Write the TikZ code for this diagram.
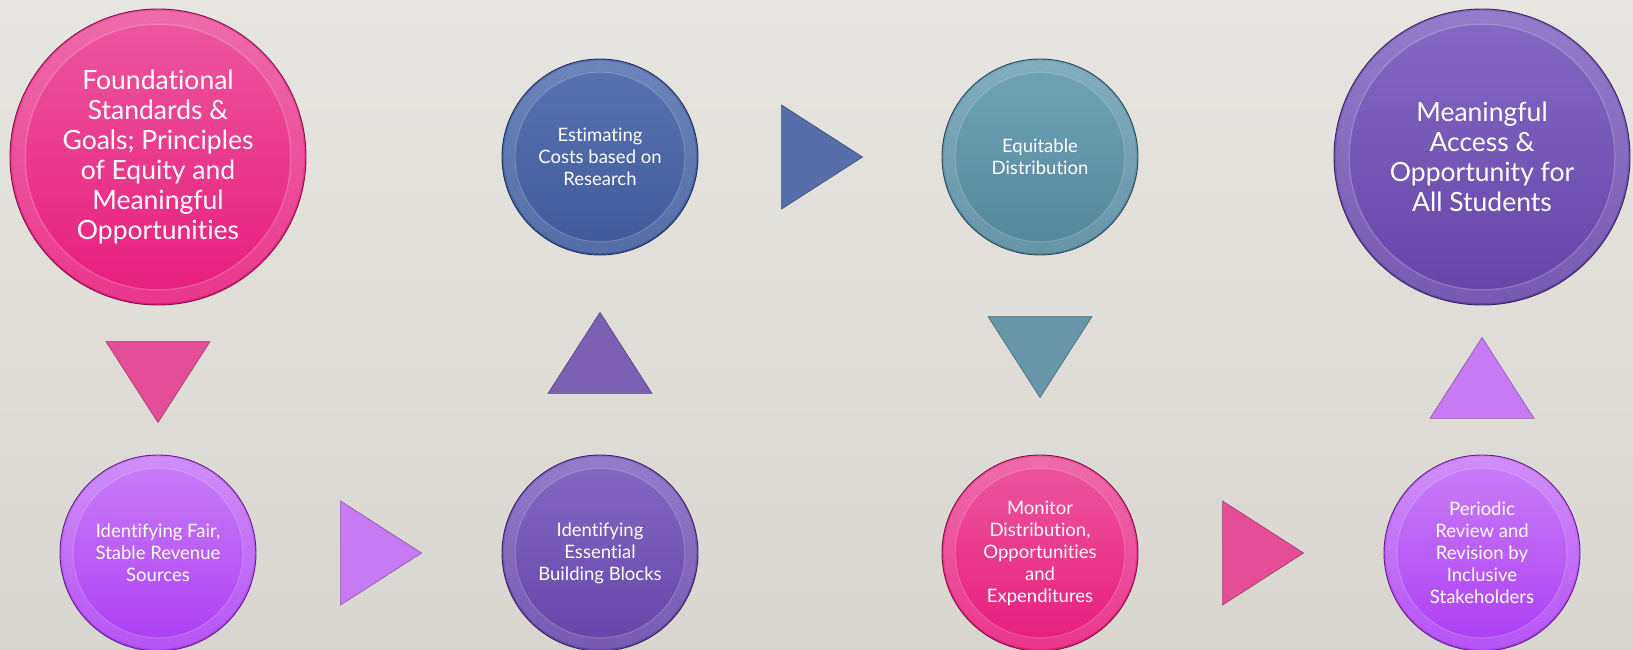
\documentclass[tikz,border=0pt]{standalone}
\usepackage{fontspec}
\setmainfont{Lato}[Ligatures=NoCommon]
\usepackage{tikz}
\usetikzlibrary{shapes.geometric, positioning}

\definecolor{bgtop}{RGB}{231,229,225}
\definecolor{bgbot}{RGB}{217,214,208}
\definecolor{pinkA}{RGB}{236,88,158}
\definecolor{pinkB}{RGB}{232,28,124}
\definecolor{violA}{RGB}{202,128,248}
\definecolor{violB}{RGB}{172,60,244}
\definecolor{purpA}{RGB}{134,106,196}
\definecolor{purpB}{RGB}{100,68,168}
\definecolor{blueA}{RGB}{88,116,178}
\definecolor{blueB}{RGB}{62,90,154}
\definecolor{tealA}{RGB}{112,164,182}
\definecolor{tealB}{RGB}{82,134,156}
\definecolor{pinkT}{RGB}{228,78,150}
\definecolor{violT}{RGB}{198,122,244}
\definecolor{purpT}{RGB}{124,96,180}
\definecolor{blueT}{RGB}{86,110,170}
\definecolor{tealT}{RGB}{102,150,168}

\tikzset{
	disc/.style 2 args={circle, inner sep=0pt, draw=#2!55!black, line width=.9pt,
		top color=#1, bottom color=#2, text=white, align=center},
	bigdisc/.style={minimum size=296pt, font=\fontsize{26.5}{30}\selectfont,
		path picture={
			\draw[white, opacity=.12, line width=12pt] (path picture bounding box.center) circle (140pt);
			\draw[white, opacity=.25, line width=1.5pt] (path picture bounding box.center) circle (133pt);}},
	smalldisc/.style={minimum size=196pt, font=\fontsize{18.5}{22}\selectfont,
		path picture={
			\draw[white, opacity=.12, line width=10pt] (path picture bounding box.center) circle (91pt);
			\draw[white, opacity=.25, line width=1.2pt] (path picture bounding box.center) circle (85pt);}},
	tri/.style={isosceles triangle, isosceles triangle stretches, inner sep=0pt,
		minimum width=104pt, minimum height=81pt, fill=#1, draw=#1!70!black, line width=.6pt},
	tridown/.style={tri=#1, shape border rotate=-90, yshift=10pt},
	triup/.style={tri=#1, shape border rotate=90, yshift=-10pt},
	triright/.style={tri=#1, shape border rotate=0, xshift=-10pt}
}

\begin{document}
\begin{tikzpicture}[x=1pt, y=-1pt]
		% background
		\useasboundingbox (0,0) rectangle (1633,650);
		\shade[top color=bgtop, bottom color=bgbot] (0,0) rectangle (1633,650);

		% top row
		\node[disc={pinkA}{pinkB}, bigdisc] (found) at (158,157) {Foundational\\Standards \&\\Goals; Principles\\of Equity and\\Meaningful\\Opportunities};
		\node[disc={blueA}{blueB}, smalldisc] (cost) at (600,157) {Estimating\\Costs based on\\Research};
		\node[disc={tealA}{tealB}, smalldisc] (equit) at (1040,157) {Equitable\\Distribution};
		\node[disc={purpA}{purpB}, bigdisc] (access) at (1482,157) {Meaningful\\Access \&\\Opportunity for\\All Students};

		% bottom row
		\node[disc={violA}{violB}, smalldisc] (fair) at (158,553) {Identifying Fair,\\Stable Revenue\\Sources};
		\node[disc={purpA}{purpB}, smalldisc] (blocks) at (600,553) {Identifying\\Essential\\Building Blocks};
		\node[disc={pinkA}{pinkB}, smalldisc] (monitor) at (1040,553) {Monitor\\Distribution,\\Opportunities\\and\\Expenditures};
		\node[disc={violA}{violB}, smalldisc] (review) at (1482,553) {Periodic\\Review and\\Revision by\\Inclusive\\Stakeholders};

		% arrows between the discs
		\path (found.south) -- (fair.north) node[midway, tridown=pinkT] (t1) {};
		\path (fair.east) -- (blocks.west) node[midway, triright=violT] (t2) {};
		\path (blocks.north) -- (cost.south) node[midway, triup=purpT] (t3) {};
		\path (cost.east) -- (equit.west) node[midway, triright=blueT] (t4) {};
		\path (equit.south) -- (monitor.north) node[midway, tridown=tealT] (t5) {};
		\path (monitor.east) -- (review.west) node[midway, triright=pinkT] (t6) {};
		\path (review.north) -- (access.south) node[midway, triup=violT] (t7) {};
\end{tikzpicture}
\end{document}
